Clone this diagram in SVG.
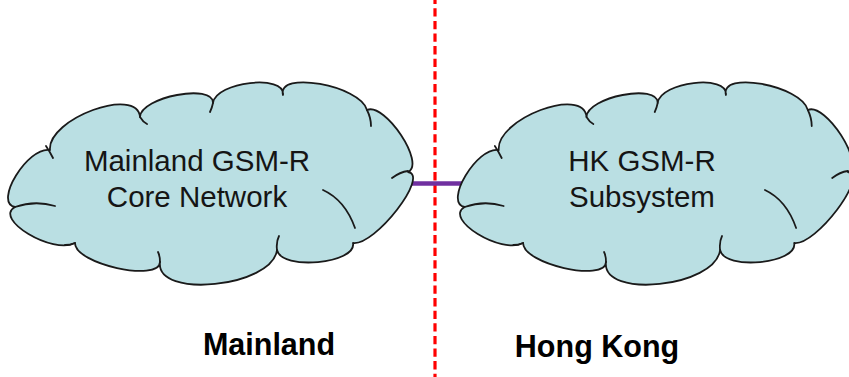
<svg xmlns="http://www.w3.org/2000/svg" xmlns:xlink="http://www.w3.org/1999/xlink" width="849" height="377" viewBox="0 0 849 377">
<style>
.cloud{fill:#BADFE3;stroke:#1a1a1a;stroke-width:1.8;stroke-linejoin:round}
.inner{fill:none;stroke:#1a1a1a;stroke-width:1.8;stroke-linecap:round}
.lbl{font-family:"Liberation Sans",Arial,sans-serif;font-size:29.5px;fill:#151515;text-anchor:middle}
.region{font-family:"Liberation Sans",Arial,sans-serif;font-size:30.5px;font-weight:bold;fill:#000;text-anchor:middle}
.link{stroke:#7030A0;stroke-width:4.5;fill:none}
.border{stroke:#FF0000;stroke-width:3.2;stroke-dasharray:8.3 4.3;stroke-dashoffset:4.3;fill:none}
</style>
<defs>
<path id="cloudShape" d="M50,150 C47.3,118.7 137.3,85.7 140,117 C140.7,97 213.7,83 213,103 C215.7,81.7 285.7,73.7 283,95 C276.3,70.3 360.3,85.3 367,110 C385,102 426,164 408,172 C430,175 375,246 353,243 C357,263.7 281,270.7 277,250 C272.3,287.3 155.3,299.3 160,262 C159.3,282.7 74.3,263.7 75,243 C53,255 -7,219 15,207 C-7,203 28,146 50,150 Z"/>
<path id="cloudInner" d="M15,207 Q35,200 55,206 M46,146 Q50,152 53,158 M140,117 Q143,122 147,124 M213,103 Q212,108 210,112 M367,110 Q371,118 371,126 M408,171 Q400,172 392,178 M323,190 Q345,200 355,228 M277,250 Q276,242 279,236 M160,262 Q160,256 158,252 M75,243 Q70,245 65,245"/>
</defs>
<g id="boundary">
<line class="border" x1="435" y1="0" x2="435" y2="377"/>
</g>
<g id="connectors">
<line class="link" x1="410" y1="183.5" x2="462" y2="183.5"/>
</g>
<g id="mainland-core">
<use xlink:href="#cloudShape" class="cloud"/>
<use xlink:href="#cloudInner" class="inner"/>
<text class="lbl" x="197" y="171">Mainland GSM-R</text>
<text class="lbl" x="197" y="207">Core Network</text>
</g>
<g id="hk-subsystem">
<g transform="translate(450,0) scale(0.975,1)">
<use xlink:href="#cloudShape" class="cloud"/>
<use xlink:href="#cloudInner" class="inner"/>
</g>
<text class="lbl" x="642" y="171">HK GSM-R</text>
<text class="lbl" x="642" y="207">Subsystem</text>
</g>
<g id="region-labels">
<text class="region" x="269" y="355">Mainland</text>
<text class="region" x="597" y="357">Hong Kong</text>
</g>
</svg>
